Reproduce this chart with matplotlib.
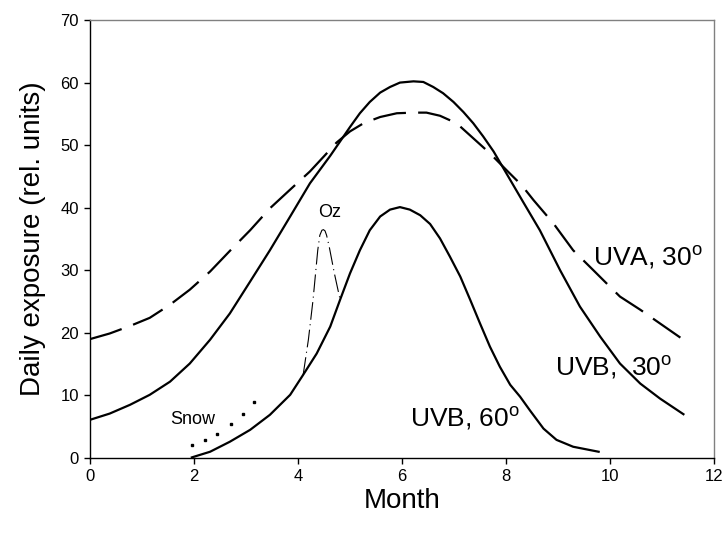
import matplotlib
matplotlib.use('Agg')
import matplotlib.pyplot as plt

plt.rcParams['font.family'] = ['Liberation Sans', 'DejaVu Sans']

# UVB at 30 degrees
uvb30_x = [0, 0.38, 0.77, 1.15, 1.54, 1.92, 2.31, 2.69, 3.08, 3.46, 3.85, 4.23,
           4.62, 4.81, 5.0, 5.19, 5.38, 5.58, 5.77, 5.96, 6.22, 6.41, 6.6, 6.79,
           6.99, 7.18, 7.37, 7.56, 7.76, 7.95, 8.14, 8.33, 8.65, 9.04, 9.42,
           9.81, 10.19, 10.58, 10.96, 11.41]
uvb30_y = [6.1, 7.1, 8.5, 10.1, 12.2, 15.1, 18.9, 23.1, 28.2, 33.2, 38.6, 43.9,
           48.3, 50.6, 52.9, 55.1, 56.9, 58.4, 59.3, 60.0, 60.2, 60.1, 59.3, 58.3,
           56.9, 55.3, 53.5, 51.4, 49.0, 46.3, 43.6, 40.9, 36.4, 30.0, 24.2,
           19.4, 15.1, 11.9, 9.5, 7.0]

# UVA at 30 degrees
uva30_x = [0, 0.38, 0.77, 1.15, 1.54, 1.92, 2.31, 2.69, 3.08, 3.46, 3.85, 4.23,
           4.52, 4.74, 5.0, 5.26, 5.58, 5.9, 6.22, 6.47, 6.73, 7.05, 7.37, 7.69,
           8.01, 8.3, 8.53, 8.91, 9.29, 9.68, 9.97, 10.19, 10.58, 10.96, 11.41]
uva30_y = [19.0, 19.9, 21.1, 22.4, 24.5, 26.9, 29.8, 33.1, 36.4, 39.9, 42.9, 45.8,
           48.4, 50.4, 52.2, 53.5, 54.5, 55.1, 55.2, 55.2, 54.7, 53.5, 51.1, 48.7,
           46.0, 43.6, 41.2, 37.5, 33.2, 30.0, 27.6, 25.8, 23.7, 21.5, 18.9]

# UVB at 60 degrees
uvb60_x = [1.96, 2.31, 2.69, 3.08, 3.46, 3.85, 4.1, 4.36, 4.62, 4.81, 5.0, 5.19,
           5.38, 5.58, 5.77, 5.96, 6.15, 6.35, 6.54, 6.73, 6.92, 7.12, 7.31,
           7.5, 7.69, 7.88, 8.08, 8.27, 8.46, 8.72, 8.97, 9.29, 9.78]
uvb60_y = [0.1, 1.0, 2.6, 4.5, 6.9, 10.1, 13.3, 16.7, 21.0, 25.3, 29.5, 33.2,
           36.4, 38.6, 39.7, 40.1, 39.7, 38.8, 37.4, 35.1, 32.2, 29.0, 25.3,
           21.5, 17.8, 14.6, 11.7, 9.8, 7.6, 4.7, 2.9, 1.8, 1.0]

# ozone depletion excursion
oz_x = [4.1, 4.2, 4.29, 4.38, 4.42, 4.46, 4.49, 4.52, 4.55, 4.6, 4.7, 4.81]
oz_y = [13.3, 18.9, 25.3, 33.2, 35.6, 36.4, 36.5, 36.3, 35.6, 33.8, 29.5, 25.3]

# snow reflection
snow_x = [1.96, 2.21, 2.45, 2.71, 2.94, 3.15]
snow_y = [2.1, 2.9, 3.9, 5.4, 7.0, 8.9]

fig = plt.figure(figsize=(7.25, 5.34), dpi=100)
ax = fig.add_axes([0.124, 0.1423, 0.861, 0.8202])

ax.plot(uva30_x, uva30_y, color='black', lw=1.6, linestyle=(0, (15, 5.5)))
ax.plot(uvb30_x, uvb30_y, color='black', lw=1.6)
ax.plot(uvb60_x, uvb60_y, color='black', lw=1.6)
ax.plot(oz_x, oz_y, color='black', lw=0.8, linestyle=(0, (16, 4, 1, 4)))
ax.plot(snow_x, snow_y, color='black', linestyle='none', marker='s', markersize=2)

ax.text(1.54, 6.2, 'Snow', fontsize=13, va='center', ha='left')
ax.text(4.39, 39.3, 'Oz', fontsize=13, va='center', ha='left')
ax.text(6.15, 6.3, 'UVB, 60$^\\mathregular{o}$', fontsize=19, va='center', ha='left')
ax.text(8.94, 14.6, 'UVB,  30$^\\mathregular{o}$', fontsize=19, va='center', ha='left')
ax.text(9.67, 32.1, 'UVA, 30$^\\mathregular{o}$', fontsize=19, va='center', ha='left')

ax.set_xlim(0, 12)
ax.set_ylim(0, 70)
ax.set_xticks(range(0, 13, 2))
ax.set_yticks(range(0, 71, 10))
ax.tick_params(direction='out', length=4, width=1, labelsize=12, pad=4)
ax.spines['top'].set_color('#808080')
ax.spines['right'].set_color('#808080')
for s in ax.spines.values():
    s.set_linewidth(1)

ax.set_xlabel('Month', fontsize=20, labelpad=3)
ax.set_ylabel('Daily exposure (rel. units)', fontsize=20, labelpad=10)

fig.savefig('out.png', dpi=100)
